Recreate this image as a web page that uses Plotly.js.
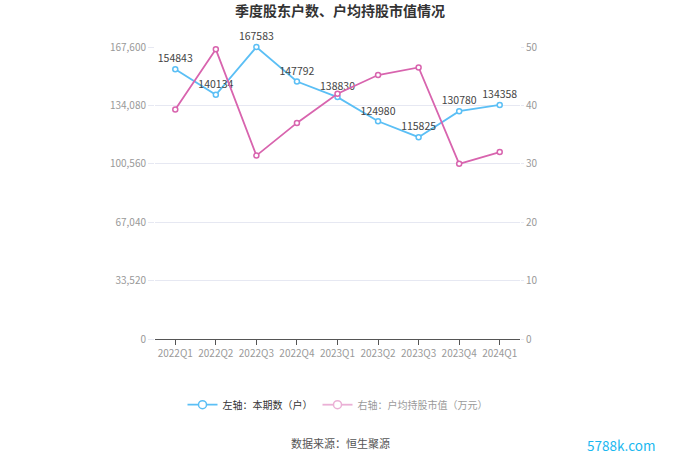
<!DOCTYPE html>
<html>
<head>
<meta charset="utf-8">
<script src="https://cdn.plot.ly/plotly-3.0.1.min.js"></script>
<style>html,body{margin:0;padding:0;background:#fff;}#chart{width:680px;height:460px;}</style>
</head>
<body>
<div id="chart"></div>
<script>
const quarters = ['2022Q1','2022Q2','2022Q3','2022Q4','2023Q1','2023Q2','2023Q3','2023Q4','2024Q1'];
const holders = [154843,140134,167583,147792,138830,124980,115825,130780,134358];
const avgValue = [39.3,49.6,31.4,37.0,42.0,45.2,46.5,30.0,32.0];
const leftTicks = [0,33520,67040,100560,134080,167600];
const rightTicks = [0,10,20,30,40,50];

const font = '"Noto Sans CJK SC", "Noto Sans", sans-serif';
const blue = '#5bbff5';
const pink = '#d864ae';
const xIdx = quarters.map((q,i)=>i);

const traces = [
  {
    x: xIdx, y: holders, type: 'scatter', mode: 'lines+markers+text',
    name: '左轴：本期数（户）', yaxis: 'y', showlegend: false,
    line: {color: blue, width: 1.8},
    marker: {symbol: 'circle', size: 5, color: '#fff', line: {color: blue, width: 1.5}},
    text: holders.map(String), textposition: 'top center',
    textfont: {family: font, size: 10.5, color: '#444'},
    cliponaxis: false
  },
  {
    x: xIdx, y: avgValue, type: 'scatter', mode: 'lines+markers',
    name: '右轴：户均持股市值（万元）', yaxis: 'y2', showlegend: false,
    line: {color: pink, width: 1.8},
    marker: {symbol: 'circle', size: 5, color: '#fff', line: {color: pink, width: 1.5}},
    cliponaxis: false
  },
  {
    x: [null], y: [null], type: 'scatter', mode: 'lines+markers',
    name: '左轴：本期数（户）', yaxis: 'y',
    line: {color: blue, width: 1.8},
    marker: {symbol: 'circle', size: 8, color: '#fff', line: {color: blue, width: 1.5}}
  },
  {
    x: [null], y: [null], type: 'scatter', mode: 'lines+markers',
    name: '右轴：户均持股市值（万元）', yaxis: 'y2', visible: 'legendonly',
    line: {color: pink, width: 1.8},
    marker: {symbol: 'circle', size: 8, color: '#fff', line: {color: pink, width: 1.5}}
  }
];

const layout = {
  width: 680, height: 460,
  margin: {l: 155, r: 160, t: 47, b: 121},
  paper_bgcolor: '#fff', plot_bgcolor: '#fff',
  title: {text: '季度股东户数、户均持股市值情况', x: 0.5, xanchor: 'center', y: 0.975, yanchor: 'middle',
          font: {family: font, size: 14, color: '#333', weight: 'bold'}},
  font: {family: font},
  showlegend: true,
  legend: {orientation: 'h', x: 0.5, xanchor: 'center', y: -0.225, yanchor: 'middle',
           font: {family: font, size: 10, color: '#333'}, itemwidth: 30},
  xaxis: {
    range: [-0.5, 8.5], tickvals: xIdx, ticktext: quarters, tickangle: 0,
    showgrid: false, zeroline: false, showline: true, linecolor: '#555', linewidth: 1,
    ticks: 'outside', ticklen: 5, tickcolor: '#555',
    tickfont: {family: font, size: 10, color: '#999'}, fixedrange: true
  },
  yaxis: {
    range: [0, 167600], tickvals: leftTicks, ticktext: leftTicks.map(v=>v.toLocaleString('en-US')),
    showgrid: true, gridcolor: '#e6e8f2', gridwidth: 1, zeroline: false, showline: false,
    ticks: 'outside', ticklen: 6, tickcolor: '#e6e8f2',
    tickfont: {family: font, size: 10, color: '#999'}
  },
  yaxis2: {
    range: [0, 50], tickvals: rightTicks, overlaying: 'y', side: 'right',
    showgrid: false, zeroline: false, showline: false,
    ticks: 'outside', ticklen: 3, tickcolor: '#e6e8f2',
    tickfont: {family: font, size: 10, color: '#999'}
  },
  annotations: [
    {text: '数据来源：恒生聚源', xref: 'paper', yref: 'paper', x: 0.507, y: -0.355, xanchor: 'center', yanchor: 'middle',
     showarrow: false, font: {family: font, size: 11, color: '#555'}},
    {text: '5788k.com', xref: 'paper', yref: 'paper', x: 1.375, y: -0.363, xanchor: 'right', yanchor: 'middle',
     showarrow: false, font: {family: font, size: 13.5, color: '#1ab8f0'}}
  ]
};

Plotly.newPlot('chart', traces, layout, {displayModeBar: false, staticPlot: true});
</script>
</body>
</html>
